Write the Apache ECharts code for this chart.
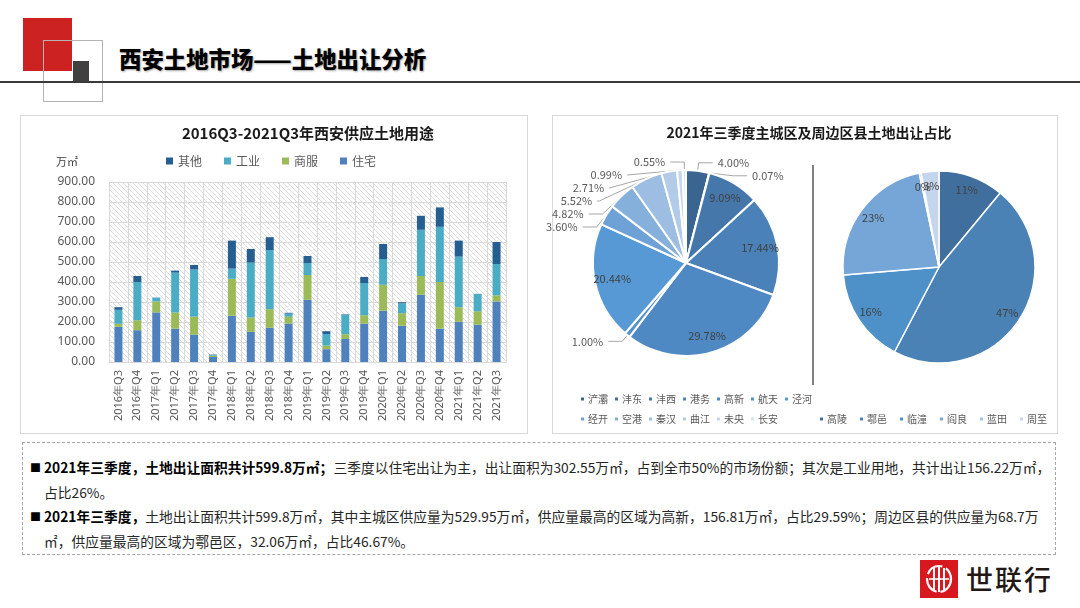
<!DOCTYPE html>
<html>
<head>
<meta charset="utf-8">
<script src="https://cdn.jsdelivr.net/npm/echarts@6/dist/echarts.min.js"></script>
<style>
  body { margin: 0; background: #fff; font-family: "Noto Sans CJK SC", "Noto Sans", sans-serif; }
  .page { position: relative; width: 1080px; height: 608px; overflow: hidden; }
  .red-sq { position: absolute; left: 23px; top: 18px; width: 49px; height: 53px; background: #cc2222; }
  .outline-sq { position: absolute; left: 43px; top: 40px; width: 58px; height: 60px; border: 1px solid #b4b4b4; }
  .dark-sq { position: absolute; left: 73px; top: 61px; width: 16px; height: 20px; background: #404040; }
  .head-line { position: absolute; left: 0; top: 81px; width: 1080px; height: 2px; background: #3a3a3a; }
  .head-title { position: absolute; left: 119px; top: 42px; font-size: 22.4px; font-weight: 900; color: #000;
    text-shadow: 1px 1px 2px rgba(0,0,0,0.35); white-space: nowrap; }
  .panel { position: absolute; top: 115px; height: 317px; border: 1px solid #d9d9d9; }
  .sep { position: absolute; left: 812px; top: 165px; width: 2px; height: 220px; background: #808080; }
  .note { position: absolute; left: 22px; top: 442px; width: 1034px; height: 113px; border: 1px dashed #a6a6a6; box-sizing: border-box; }
  .note p { position: relative; margin: 0; padding-left: 21px; font-size: 13.75px; line-height: 24.5px; color: #262626; white-space: nowrap; }
  .note p:first-child { margin-top: 12px; }
  .note p.bullet::before { content: "■"; position: absolute; left: 7px; top: 0; font-size: 11px; color: #000; }
  .note b { color: #000; }
  .logo-box { position: absolute; left: 920px; top: 560px; width: 38px; height: 38px; background: #d7191f; }
  .logo-text { position: absolute; left: 966px; top: 561px; font-size: 27px; line-height: 36px; color: #231815; letter-spacing: 2px; font-weight: 500; }
  #chart { position: absolute; left: 0; top: 0; width: 1080px; height: 608px; }
</style>
</head>
<body>
<div class="page">
  <div class="red-sq"></div>
  <div class="outline-sq"></div>
  <div class="dark-sq"></div>
  <div class="head-line"></div>
  <div class="head-title">西安土地市场——土地出让分析</div>

  <div class="panel" style="left:20px;width:506px;"></div>
  <div class="panel" style="left:552px;width:504px;"></div>
  <div class="sep"></div>

  <div class="note">
    <p class="bullet"><b>2021年三季度，土地出让面积共计599.8万㎡；</b>三季度以住宅出让为主，出让面积为302.55万㎡，占到全市50%的市场份额；其次是工业用地，共计出让156.22万㎡，</p>
    <p>占比26%。</p>
    <p class="bullet"><b>2021年三季度，</b>土地出让面积共计599.8万㎡，其中主城区供应量为529.95万㎡，供应量最高的区域为高新，156.81万㎡，占比29.59%；周边区县的供应量为68.7万</p>
    <p>㎡，供应量最高的区域为鄠邑区，32.06万㎡，占比46.67%。</p>
  </div>

  <div class="logo-box">
    <svg width="38" height="38" viewBox="0 0 38 38">
      <ellipse cx="19" cy="19" rx="12" ry="13" fill="none" stroke="#fff" stroke-width="2.2" stroke-dasharray="18 4"/>
      <line x1="14" y1="8" x2="14" y2="30" stroke="#fff" stroke-width="2"/>
      <line x1="19" y1="6" x2="19" y2="32" stroke="#fff" stroke-width="2"/>
      <line x1="24" y1="8" x2="24" y2="30" stroke="#fff" stroke-width="2"/>
      <line x1="9" y1="19" x2="29" y2="19" stroke="#fff" stroke-width="1.6"/>
    </svg>
  </div>
  <div class="logo-text">世联行</div>

  <div id="chart"></div>
</div>

<script>
// 季度
const quarters = ['2016年Q3', '2016年Q4', '2017年Q1', '2017年Q2', '2017年Q3', '2017年Q4',
  '2018年Q1', '2018年Q2', '2018年Q3', '2018年Q4', '2019年Q1', '2019年Q2', '2019年Q3',
  '2019年Q4', '2020年Q1', '2020年Q2', '2020年Q3', '2020年Q4', '2021年Q1', '2021年Q2', '2021年Q3'];
// 供应土地面积（万㎡）
const residential = [176, 159, 248, 167, 137, 25, 231, 151, 171, 192, 311, 64, 115, 192, 256, 181, 336, 167, 201, 186, 302.55];
const commercial  = [15, 50, 55, 81, 90, 6, 185, 71, 93, 34, 124, 18, 24, 42, 130, 63, 94, 233, 73, 68, 31];
const industrial  = [70, 191, 18, 199, 236, 4, 51, 275, 296, 16, 60, 58, 98, 161, 129, 49, 231, 276, 253, 87, 156.22];
const others      = [13, 30, 1, 10, 22, 2, 140, 68, 64, 4, 35, 14, 2, 30, 75, 6, 70, 97, 80, 0, 110];

// 主城区占比（%）
const mainNames  = ['浐灞', '沣东', '沣西', '港务', '高新', '航天', '泾河', '经开', '空港', '秦汉', '曲江', '未央', '长安'];
const mainShares = [4.00, 0.07, 9.09, 17.44, 29.78, 1.00, 20.44, 3.60, 4.82, 5.52, 2.71, 0.99, 0.55];
// 周边区县占比（%）
const countyNames  = ['高陵', '鄠邑', '临潼', '阎良', '蓝田', '周至'];
const countyShares = [11, 46.67, 16, 23, 0.3, 3];

const mainColors = ['#3b6591', '#3f6d9d', '#4577ab', '#4a81b8', '#4e89c3', '#5392cd', '#5799d4',
  '#6ea2d7', '#86b0dc', '#9dbee2', '#b2cbe8', '#c7d8ee', '#d9e4f2'];
const countyColors = ['#416f9d', '#4a82b6', '#4e90c8', '#76a6d8', '#a5c1e3', '#c5d5ec'];

const hatch = document.createElement('canvas');
hatch.width = 5;
hatch.height = 5;
const hctx = hatch.getContext('2d');
hctx.fillStyle = '#ffffff';
hctx.fillRect(0, 0, 5, 5);
hctx.strokeStyle = '#dedede';
hctx.lineWidth = 1;
hctx.beginPath();
hctx.moveTo(-1, -1); hctx.lineTo(6, 6);
hctx.moveTo(4, -1); hctx.lineTo(6, 1);
hctx.moveTo(-1, 4); hctx.lineTo(1, 6);
hctx.stroke();

const grey = '#595959';
const font = '"Noto Sans CJK SC", "Noto Sans", sans-serif';

function pieData(names, values, colors) {
  return names.map((n, i) => ({ name: n, value: values[i], itemStyle: { color: colors[i] } }));
}

const barSeries = [
  { name: '住宅', data: residential, color: '#4f81bd' },
  { name: '商服', data: commercial, color: '#9bbb59' },
  { name: '工业', data: industrial, color: '#4bacc6' },
  { name: '其他', data: others, color: '#255e91' }
].map(s => ({
  name: s.name,
  type: 'bar',
  stack: 'total',
  barWidth: 8,
  data: s.data,
  itemStyle: { color: s.color }
}));

const chart = echarts.init(document.getElementById('chart'), null, { renderer: 'canvas' });
chart.setOption({
  backgroundColor: 'transparent',
  animation: false,
  textStyle: { fontFamily: font },
  title: [
    {
      text: '2016Q3-2021Q3年西安供应土地用途',
      left: 303, top: 121, textAlign: 'center',
      textStyle: { fontSize: 15, fontWeight: 'bold', color: '#1a1a1a', fontFamily: font }
    },
    {
      text: '2021年三季度主城区及周边区县土地出让占比',
      left: 804, top: 121, textAlign: 'center',
      textStyle: { fontSize: 14, fontWeight: 'bold', color: '#1a1a1a', fontFamily: font }
    },
    {
      text: '万㎡',
      left: 51, top: 151,
      textStyle: { fontSize: 11, fontWeight: 'normal', color: '#404040', fontFamily: font }
    }
  ],
  legend: [
    {
      data: ['其他', '工业', '商服', '住宅'],
      left: 161, top: 150,
      icon: 'rect', itemWidth: 7, itemHeight: 7, itemGap: 22,
      textStyle: { fontSize: 12, color: grey }
    },
    {
      data: mainNames.slice(0, 7),
      left: 574, top: 389,
      icon: 'rect', itemWidth: 5, itemHeight: 5, itemGap: 5,
      textStyle: { fontSize: 10, color: grey, padding: [0, 0, 0, -2] }
    },
    {
      data: mainNames.slice(7),
      left: 574, top: 409,
      icon: 'rect', itemWidth: 5, itemHeight: 5, itemGap: 5,
      textStyle: { fontSize: 10, color: grey, padding: [0, 0, 0, -2] }
    },
    {
      data: countyNames,
      left: 813, top: 409,
      icon: 'rect', itemWidth: 5, itemHeight: 5, itemGap: 11,
      textStyle: { fontSize: 10, color: grey, padding: [0, 0, 0, -2] }
    }
  ],
  grid: {
    left: 109, right: 574, top: 182, bottom: 246,
    show: true, borderWidth: 0,
    backgroundColor: { image: hatch, repeat: 'repeat' }
  },
  xAxis: {
    type: 'category',
    data: quarters,
    axisLine: { show: true, lineStyle: { color: '#d9d9d9' } },
    axisTick: { show: false },
    splitLine: { show: true, interval: 0, lineStyle: { color: '#d9d9d9' } },
    axisLabel: { rotate: 90, fontSize: 11, color: grey, interval: 0, margin: 8, fontFamily: 'Noto Sans' }
  },
  yAxis: {
    type: 'value',
    min: 0, max: 900, interval: 100,
    axisLine: { show: false },
    axisTick: { show: false },
    splitLine: { lineStyle: { color: '#d9d9d9' } },
    axisLabel: { fontSize: 12, color: grey, margin: 14, fontFamily: 'Noto Sans', formatter: v => v.toFixed(2) }
  },
  series: barSeries.concat([
    {
      name: '主城区',
      type: 'pie',
      center: [686, 263],
      radius: 93,
      startAngle: 90,
      minAngle: 0,
      avoidLabelOverlap: true,
      itemStyle: { borderColor: '#fff', borderWidth: 2 },
      label: {
        show: true, position: 'outside', fontSize: 11, color: grey,
        formatter: p => p.value < 8 ? p.value.toFixed(2) + '%' : ''
      },
      labelLine: { show: true, length: 8, length2: 14, lineStyle: { color: '#a6a6a6', width: 1 } },
      data: pieData(mainNames, mainShares, mainColors).map(d => Object.assign(d, {
        labelLine: { show: d.value < 8 }
      })),
      emphasis: { disabled: true }
    },
    {
      name: '主城区标签',
      type: 'pie',
      center: [686, 263],
      radius: [52, 93],
      startAngle: 90,
      minAngle: 0,
      silent: true,
      itemStyle: { color: 'transparent', borderWidth: 0 },
      label: {
        show: true, position: 'inside', fontSize: 11, color: '#404040',
        formatter: p => p.value >= 8 ? p.value.toFixed(2) + '%' : ''
      },
      labelLine: { show: false },
      data: mainNames.map((n, i) => ({ name: n, value: mainShares[i] })),
      emphasis: { disabled: true }
    },
    {
      name: '周边区县',
      type: 'pie',
      center: [939, 267],
      radius: 96,
      startAngle: 90,
      minAngle: 0,
      itemStyle: { borderColor: '#fff', borderWidth: 1.5 },
      label: { show: false },
      labelLine: { show: false },
      data: pieData(countyNames, countyShares, countyColors),
      emphasis: { disabled: true }
    },
    {
      name: '周边区县标签',
      type: 'pie',
      center: [939, 267],
      radius: [62, 96],
      startAngle: 90,
      minAngle: 0,
      silent: true,
      avoidLabelOverlap: false,
      labelLayout: { hideOverlap: false },
      itemStyle: { color: 'transparent', borderWidth: 0 },
      label: {
        show: true, position: 'inside', fontSize: 11, color: '#404040', overflow: 'none',
        formatter: p => Math.round(p.percent) + '%'
      },
      labelLine: { show: false },
      data: countyNames.map((n, i) => ({ name: n, value: countyShares[i] })),
      emphasis: { disabled: true }
    }
  ])
});
</script>
</body>
</html>
